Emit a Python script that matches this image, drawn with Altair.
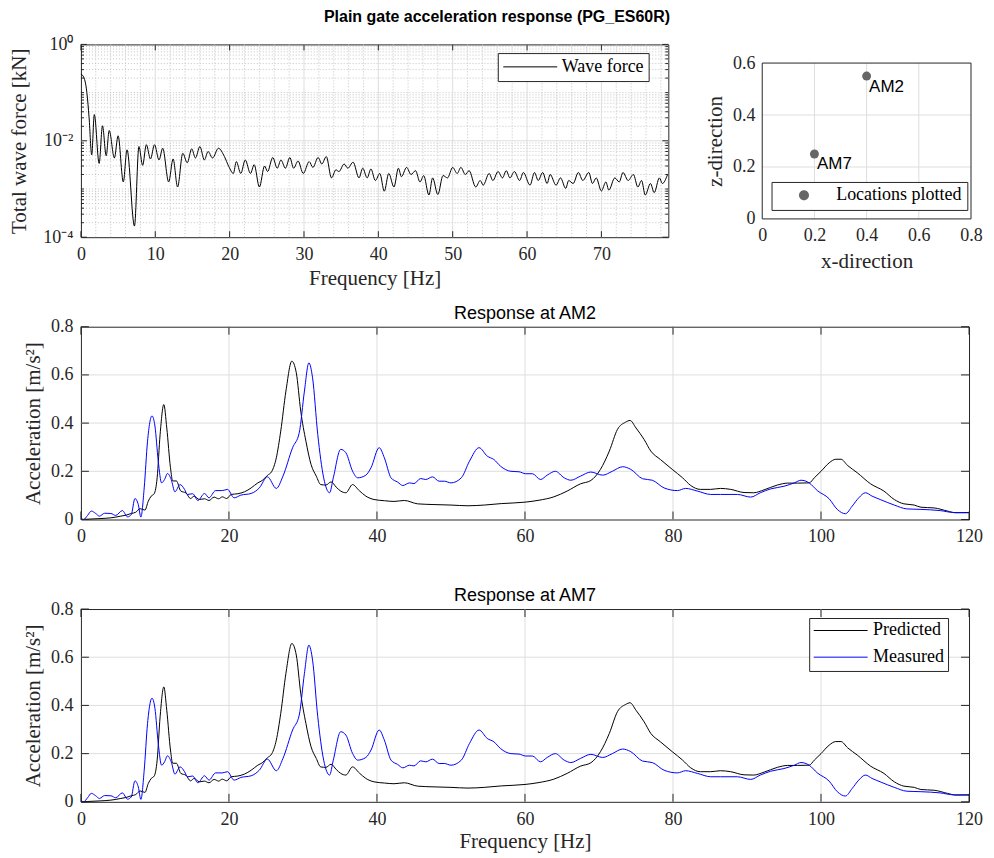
import altair as alt
import pandas as pd

SERIF = "Liberation Serif"
SANS = "Liberation Sans"
AX = "#262626"
GRID = "#dedede"
MINOR = "#c4c4c4"

# ---------------- data ----------------
wf_freq = [0.0, 0.3, 0.8, 1.1, 1.45, 1.8, 2.45, 2.9, 3.4, 3.8, 4.5, 5.0, 5.7, 6.2, 7.2, 7.8, 8.3, 8.8,
           9.35, 9.9, 10.5, 11.0, 11.8, 12.4, 13.0, 13.7, 14.3, 14.9, 15.4, 16.0, 16.6, 17.1, 17.7,
           18.5, 19.3, 19.9, 20.5, 20.9, 21.5, 22.1, 22.8, 23.3, 24.0, 24.7, 25.1, 25.8, 26.4, 26.9,
           27.5, 28.1, 28.6, 29.2, 29.9, 30.7, 31.2, 31.9, 32.4, 33.0, 33.7, 34.3, 34.7, 35.4, 35.9,
           36.6, 37.4, 37.9, 38.5, 39.0, 39.6, 40.2, 40.8, 41.4, 42.1, 42.7, 43.1, 43.8, 44.4, 45.0,
           45.6, 46.1, 46.8, 47.3, 48.0, 48.7, 49.3, 50.0, 50.6, 51.1, 51.7, 52.2, 53.1, 53.7, 54.1,
           54.9, 55.4, 56.1, 56.7, 57.2, 57.7, 58.3, 59.0, 59.5, 60.4, 61.0, 61.5, 62.1, 62.7, 63.1,
           63.9, 64.5, 65.2, 65.6, 66.2, 66.9, 67.5, 68.3, 68.8, 69.3, 70.0, 70.6, 71.0, 71.8, 72.4,
           72.9, 73.6, 74.3, 74.9, 75.4, 75.9, 76.6, 77.1, 77.8, 78.2, 78.9]
wf_force = [0.24, 0.22, 0.10, 0.03, 0.0051, 0.035, 0.0034, 0.0205, 0.0049, 0.0164, 0.0044, 0.0127,
            0.0014, 0.0065, 0.00017, 0.0076, 0.0031, 0.0083, 0.0042, 0.0083, 0.0040, 0.0070, 0.0014,
            0.0042, 0.0011, 0.0055, 0.0035, 0.0068, 0.0044, 0.0076, 0.0040, 0.0060, 0.0044, 0.0070,
            0.0047, 0.0029, 0.0021, 0.0037, 0.0021, 0.0040, 0.0021, 0.0032, 0.0011, 0.0030, 0.0023,
            0.0045, 0.0027, 0.0040, 0.0027, 0.0045, 0.0027, 0.0038, 0.0021, 0.0037, 0.0028, 0.0045,
            0.0033, 0.0047, 0.0017, 0.0025, 0.0023, 0.0033, 0.0027, 0.0036, 0.0017, 0.0027, 0.0017,
            0.0026, 0.0015, 0.0021, 0.0009, 0.0021, 0.0011, 0.0027, 0.0018, 0.0028, 0.0020, 0.0024,
            0.0014, 0.0019, 0.00075, 0.0017, 0.00077, 0.0019, 0.0017, 0.0028, 0.0021, 0.0028, 0.0020,
            0.0024, 0.0011, 0.0015, 0.0012, 0.0021, 0.0015, 0.0023, 0.0017, 0.0024, 0.0017, 0.0023,
            0.0015, 0.0022, 0.0012, 0.0022, 0.0015, 0.0022, 0.0013, 0.0020, 0.0012, 0.0017, 0.00103,
            0.0015, 0.0013, 0.0022, 0.0015, 0.0022, 0.0013, 0.0017, 0.00091, 0.0014, 0.00095, 0.0017,
            0.0014, 0.0022, 0.0015, 0.0020, 0.0011, 0.0015, 0.00075, 0.0013, 0.00084, 0.0017, 0.0013,
            0.0020]

pred_freq = [0, 2.7, 4.05, 5.4, 6.1, 6.8, 7.4, 8.0, 8.65, 9.1, 9.5, 9.9, 10.3, 10.7, 11.2, 11.6,
             12.1, 12.4, 12.9, 13.5, 14.2, 14.8, 15.3, 16.0, 16.7, 17.3, 18.0, 18.6, 19.1, 19.7,
             20.3, 21.2, 22.1, 23.0, 23.9, 24.5, 25.2, 25.8, 26.4, 27.0, 27.7, 28.5, 29.1, 29.7,
             30.4, 31.1, 31.8, 32.4, 33.1, 33.8, 34.5, 35.1, 35.8, 36.7, 37.6, 38.5, 39.6, 41.0,
             42.3, 43.7, 45.5, 47.7, 50.0, 52.3, 54.5, 56.8, 60.0, 61.9, 63.9, 65.7, 67.5, 68.9,
             70.2, 71.4, 72.5, 73.6, 74.2, 75.0, 76.1, 77.0, 78.3, 79.9, 81.3, 82.4, 83.7, 85.1,
             86.4, 87.8, 89.6, 90.9, 92.3, 94.1, 95.5, 96.8, 98.4, 99.1, 100.0, 101.1, 102.0, 102.7,
             103.6, 104.9, 106.7, 108.5, 109.9, 111.2, 112.6, 113.5, 115.3, 117.1, 118.2, 120.0]
pred_acc = [0.0, 0.004, 0.007, 0.014, 0.018, 0.025, 0.030, 0.045, 0.039, 0.076, 0.097, 0.107,
            0.173, 0.353, 0.477, 0.380, 0.215, 0.160, 0.160, 0.118, 0.110, 0.087, 0.097, 0.083,
            0.086, 0.079, 0.093, 0.086, 0.094, 0.087, 0.104, 0.107, 0.115, 0.131, 0.152, 0.162,
            0.183, 0.200, 0.256, 0.367, 0.533, 0.657, 0.609, 0.450, 0.325, 0.228, 0.180, 0.145,
            0.143, 0.156, 0.134, 0.118, 0.111, 0.145, 0.120, 0.097, 0.083, 0.078, 0.075, 0.079,
            0.065, 0.062, 0.060, 0.057, 0.060, 0.066, 0.072, 0.080, 0.094, 0.118, 0.148, 0.162,
            0.208, 0.284, 0.374, 0.404, 0.411, 0.380, 0.332, 0.284, 0.249, 0.208, 0.173, 0.141,
            0.125, 0.125, 0.129, 0.125, 0.112, 0.111, 0.123, 0.143, 0.151, 0.151, 0.152, 0.173,
            0.200, 0.235, 0.250, 0.250, 0.224, 0.194, 0.148, 0.118, 0.083, 0.065, 0.060, 0.051,
            0.048, 0.035, 0.028, 0.029]

meas_freq = [0, 0.36, 0.9, 1.4, 2.0, 2.5, 3.2, 4.05, 4.7, 5.6, 6.3, 6.8, 7.3, 7.75, 8.1, 8.55,
             9.0, 9.6, 10.0, 10.45, 10.9, 11.3, 11.7, 12.2, 12.7, 13.4, 14.0, 14.4, 15.1, 15.8,
             16.7, 17.3, 18.2, 19.1, 19.8, 20.7, 21.6, 23.0, 24.1, 25.2, 26.4, 27.3, 28.6, 29.5,
             30.2, 30.8, 31.3, 32.0, 32.8, 33.6, 34.1, 35.1, 35.8, 36.7, 37.4, 38.5, 39.2, 40.3,
             41.0, 41.9, 42.8, 43.5, 44.4, 45.0, 45.9, 46.6, 47.5, 48.4, 49.1, 50.0, 51.4, 52.5,
             53.8, 54.9, 55.8, 56.7, 58.1, 59.2, 60.1, 61.0, 62.1, 63.0, 64.1, 65.3, 66.2, 67.5,
             68.9, 70.5, 71.8, 73.2, 74.3, 75.9, 77.2, 78.8, 80.6, 81.7, 83.3, 85.1, 86.4, 88.7,
             90.5, 91.8, 93.2, 95.0, 96.4, 97.3, 98.4, 99.5, 101.1, 102.2, 103.3, 104.2, 105.1,
             106.0, 106.9, 108.0, 109.9, 111.6, 113.5, 116.1, 117.9, 120.0]
meas_acc = [0.007, 0.0, 0.017, 0.035, 0.025, 0.014, 0.026, 0.025, 0.017, 0.037, 0.011, 0.020,
            0.087, 0.062, 0.010, 0.131, 0.325, 0.430, 0.388, 0.242, 0.152, 0.166, 0.191, 0.166,
            0.115, 0.145, 0.125, 0.104, 0.107, 0.079, 0.108, 0.090, 0.120, 0.120, 0.125, 0.090,
            0.101, 0.108, 0.131, 0.177, 0.129, 0.180, 0.298, 0.360, 0.533, 0.650, 0.588, 0.353,
            0.173, 0.111, 0.173, 0.291, 0.277, 0.201, 0.173, 0.184, 0.215, 0.298, 0.256, 0.173,
            0.155, 0.141, 0.152, 0.149, 0.170, 0.166, 0.177, 0.159, 0.159, 0.152, 0.173, 0.242,
            0.298, 0.263, 0.249, 0.221, 0.200, 0.198, 0.190, 0.190, 0.166, 0.184, 0.200, 0.173,
            0.163, 0.180, 0.197, 0.184, 0.200, 0.219, 0.208, 0.169, 0.163, 0.131, 0.120, 0.129,
            0.118, 0.104, 0.104, 0.104, 0.093, 0.111, 0.127, 0.138, 0.152, 0.163, 0.152, 0.120,
            0.086, 0.042, 0.024, 0.055, 0.090, 0.111, 0.097, 0.083, 0.060, 0.044, 0.042, 0.037,
            0.029, 0.028]

loc_names = ["AM2", "AM7"]
loc_x = [0.4, 0.2]
loc_z = [0.55, 0.25]

wf_xticks = [0, 10, 20, 30, 40, 50, 60, 70]
wf_yticks = [1e-4, 1e-2, 1.0]
wf_xminor = [v for v in range(2, 79, 2) if v % 10]
wf_yminor = [k * 10.0 ** e for e in (-4, -3, -2, -1) for k in range(2, 10)] + [1e-3, 1e-1]
resp_xticks = [0, 20, 40, 60, 80, 100, 120]
resp_yticks = [0, 0.2, 0.4, 0.6, 0.8]
loc_xticks = [0, 0.2, 0.4, 0.6, 0.8]
loc_yticks = [0, 0.2, 0.4, 0.6]

ONE = pd.DataFrame({"k": [0]})


def guard(x, y, x2=None, y2=None):
    return alt.Chart(ONE).mark_rule(color="white", strokeWidth=1).encode(
        x=alt.value(x), x2=alt.value(x if x2 is None else x2),
        y=alt.value(y), y2=alt.value(y if y2 is None else y2))


def ax(values, fmt, title, tx, ty, lpad, angle=None):
    kw = dict(values=values, format=fmt, grid=False, domain=False, ticks=False, tickSize=0,
              labelFont=SERIF, labelFontSize=18, labelColor=AX, labelPadding=lpad,
              labelBaseline="middle", labelFlush=False, labelOverlap=False)
    if title is None:
        kw["title"] = None
    else:
        kw.update(title=title, titleFont=SERIF, titleFontSize=21, titleFontWeight="normal",
                  titleColor=AX, titleX=tx, titleY=ty, titleBaseline="middle", titleAlign="center")
        if angle is not None:
            kw["titleAngle"] = angle
    return alt.Axis(**kw)


def vrules(df, xenc, color, dash=None, **extra):
    m = alt.Chart(df).mark_rule(color=color, strokeWidth=1, strokeDash=dash) if dash else \
        alt.Chart(df).mark_rule(color=color, strokeWidth=1)
    return m.encode(x=xenc, **extra)


def hrules(df, yenc, color, dash=None, **extra):
    m = alt.Chart(df).mark_rule(color=color, strokeWidth=1, strokeDash=dash) if dash else \
        alt.Chart(df).mark_rule(color=color, strokeWidth=1)
    return m.encode(y=yenc, **extra)


def xticks(df, xenc, H, L):
    b = alt.Chart(df).mark_rule(color=AX, strokeWidth=1).encode(x=xenc, y=alt.value(H), y2=alt.value(H - L))
    t = alt.Chart(df).mark_rule(color=AX, strokeWidth=1).encode(x=xenc, y=alt.value(0), y2=alt.value(L))
    return [b, t]


def yticks(df, yenc, W, L):
    l = alt.Chart(df).mark_rule(color=AX, strokeWidth=1).encode(y=yenc, x=alt.value(0), x2=alt.value(L))
    r = alt.Chart(df).mark_rule(color=AX, strokeWidth=1).encode(y=yenc, x=alt.value(W), x2=alt.value(W - L))
    return [l, r]


# ---------------- panel A: wave force ----------------
W_A, H_A = 588, 193
xA = alt.X("f:Q", scale=alt.Scale(domain=[0, 79], nice=False, zero=False),
           axis=ax(wf_xticks, "d", "Frequency [Hz]", W_A / 2, 41.7, 17.3))
yA = alt.Y("F:Q", scale=alt.Scale(type="log", domain=[1e-4, 1], nice=False),
           axis=alt.Axis(values=wf_yticks, grid=False, domain=False, ticks=False, tickSize=0,
                         labelExpr="datum.value > 0.5 ? '10⁰' : datum.value > 0.005 ? '10⁻²' : '10⁻⁴'",
                         labelFont=SERIF, labelFontSize=18, labelColor=AX, labelPadding=8,
                         labelBaseline="middle", labelFlush=False, labelOverlap=False,
                         title="Total wave force [kN]", titleFont=SERIF, titleFontSize=21,
                         titleFontWeight="normal", titleColor=AX, titleX=-61, titleY=H_A / 2,
                         titleBaseline="middle", titleAlign="center", titleAngle=270))

wf_df = pd.DataFrame({"f": wf_freq, "F": wf_force, "s": "Wave force"})
A_layers = [
    vrules(pd.DataFrame({"f": wf_xminor}), xA, MINOR, [1, 2]),
    hrules(pd.DataFrame({"F": wf_yminor}), yA, MINOR, [1, 2]),
    vrules(pd.DataFrame({"f": wf_xticks[1:]}), xA, GRID),
    hrules(pd.DataFrame({"F": [1e-2]}), yA, GRID),
    alt.Chart(wf_df).mark_line(strokeWidth=1, interpolate="monotone").encode(
        x=xA, y=yA,
        color=alt.Color("s:N", scale=alt.Scale(domain=["Wave force"], range=["black"]),
                        legend=alt.Legend(title=None, orient="none", legendX=417.3, legendY=8.7,
                                          symbolType="stroke", symbolSize=2916, symbolStrokeWidth=1,
                                          clipHeight=17.6, padding=5, labelOffset=4,
                                          labelFont=SERIF, labelFontSize=18, labelColor="black",
                                          strokeColor=AX, fillColor="white", cornerRadius=0,
                                          labelLimit=400))),
]
A_layers += xticks(pd.DataFrame({"f": wf_xticks}), xA, H_A, 6)
A_layers += yticks(pd.DataFrame({"F": wf_yticks}), yA, W_A, 6)
A_layers += yticks(pd.DataFrame({"F": wf_yminor}), yA, W_A, 3)
A_layers += [guard(-72, 0, -72, 1), guard(0, -20, 1, -20), guard(0, H_A + 55, 1, H_A + 55),
             guard(592, 0, 592, 1)]
A = alt.layer(*A_layers).properties(width=W_A, height=H_A)

# ---------------- panel B: locations ----------------
W_B, TOP_B, H_B = 209, 18.7, 156
VH_B = TOP_B + H_B
xB = alt.X("x:Q", scale=alt.Scale(domain=[0, 0.8], nice=False, zero=False),
           axis=ax(loc_xticks, ".1~f", "x-direction", W_B / 2, 42.3, 16.3))
yB = alt.Y("z:Q", scale=alt.Scale(domain=[0, 0.6], range=[VH_B, TOP_B], nice=False, zero=False),
           axis=ax(loc_yticks, ".1~f", "z-direction", -47, TOP_B + H_B / 2, 7.3, 270))
loc_df = pd.DataFrame({"x": loc_x, "z": loc_z, "name": loc_names, "lbl": "Locations plotted"})
circ = "M-0.182,0A0.182,0.182,0,1,1,0.182,0A0.182,0.182,0,1,1,-0.182,0Z"
B = alt.layer(
    vrules(pd.DataFrame({"x": [0.2, 0.4, 0.6]}), xB, GRID, y=alt.datum(0), y2=alt.datum(0.6)),
    hrules(pd.DataFrame({"z": [0.2, 0.4]}), yB, GRID),
    alt.Chart(ONE).mark_rect(filled=False, color=AX, strokeWidth=1).encode(
        x=alt.datum(0), x2=alt.datum(0.8), y=alt.datum(0), y2=alt.datum(0.6)),
    alt.Chart(loc_df).mark_circle(size=80, opacity=1).encode(
        x=xB, y=yB,
        color=alt.Color("lbl:N", scale=alt.Scale(domain=["Locations plotted"], range=["#666666"]),
                        legend=alt.Legend(title=None, orient="none", legendX=9.3, legendY=TOP_B + 119,
                                          symbolType=circ, symbolSize=3025, symbolStrokeWidth=0,
                                          symbolOpacity=1, clipHeight=16.6, padding=5, labelOffset=4.7,
                                          labelFont=SERIF, labelFontSize=18, labelColor="black",
                                          strokeColor=AX, fillColor="white", cornerRadius=0,
                                          labelLimit=400))),
    alt.Chart(loc_df).mark_text(align="left", baseline="top", dx=2.5, dy=2.5, font=SANS,
                                fontSize=17, color="black").encode(x=xB, y=yB, text="name:N"),
    guard(-60, TOP_B, -60, TOP_B + 1),
).properties(width=W_B, height=VH_B, view=alt.ViewConfig(stroke="transparent"))

row1 = alt.hconcat(A, B, spacing=28).resolve_scale(color="independent")

# ---------------- panels C / D: responses ----------------
W_R, H_R = 889, 193
resp_df = pd.concat([
    pd.DataFrame({"f": pred_freq, "a": pred_acc, "series": "Predicted"}),
    pd.DataFrame({"f": meas_freq, "a": meas_acc, "series": "Measured"}),
], ignore_index=True)


def response(title, show_x_title, legend):
    xR = alt.X("f:Q", scale=alt.Scale(domain=[0, 120], nice=False, zero=False),
               axis=ax(resp_xticks, "d", "Frequency [Hz]" if show_x_title else None, W_R / 2, 39.5, 17.5))
    yR = alt.Y("a:Q", scale=alt.Scale(domain=[0, 0.8], nice=False, zero=False),
               axis=ax(resp_yticks, ".1~f", "Acceleration [m/s²]", -47, H_R / 2, 8, 270))
    cscale = alt.Scale(domain=["Predicted", "Measured"], range=["black", "#0000ff"])
    if legend:
        color = alt.Color("series:N", scale=cscale,
                          legend=alt.Legend(title=None, orient="none", legendX=729, legendY=9,
                                            symbolType="stroke", symbolSize=2916, symbolStrokeWidth=1,
                                            clipHeight=17, rowPadding=7.7, padding=4, labelOffset=5,
                                            labelFont=SERIF, labelFontSize=18, labelColor="black",
                                            strokeColor=AX, fillColor="white", cornerRadius=0,
                                            labelLimit=400))
    else:
        color = alt.Color("series:N", scale=cscale, legend=None)
    layers = [
        vrules(pd.DataFrame({"f": resp_xticks[1:-1]}), xR, GRID),
        hrules(pd.DataFrame({"a": resp_yticks[1:-1]}), yR, GRID),
        alt.Chart(resp_df).mark_line(strokeWidth=1, interpolate="monotone").encode(
            x=xR, y=yR, color=color),
    ]
    layers += xticks(pd.DataFrame({"f": resp_xticks}), xR, H_R, 8)
    layers += yticks(pd.DataFrame({"a": resp_yticks}), yR, W_R, 8)
    layers += [guard(-72, 0, -72, 1), guard(905, 0, 905, 1)]
    if not show_x_title:
        layers.append(guard(0, H_R + 54.3, 1, H_R + 54.3))
    return alt.layer(*layers).properties(
        width=W_R, height=H_R,
        title=alt.TitleParams(title, font=SANS, fontSize=18, fontWeight="normal", color="black",
                              anchor="middle", frame="group", offset=-5.4))


C = response("Response at AM2", False, False)
D = response("Response at AM7", True, True)

chart = alt.vconcat(row1, C, D, spacing=10.6).resolve_scale(color="independent").properties(
    title=alt.TitleParams("Plain gate acceleration response (PG_ES60R)", font=SANS, fontSize=16,
                          fontWeight="bold", color="black", anchor="middle", offset=-2),
    padding={"left": 0, "top": 1, "right": 0, "bottom": 0},
).configure_view(stroke=AX, strokeWidth=1)

chart.save("out.html", embed_options={"renderer": "svg", "actions": False})
